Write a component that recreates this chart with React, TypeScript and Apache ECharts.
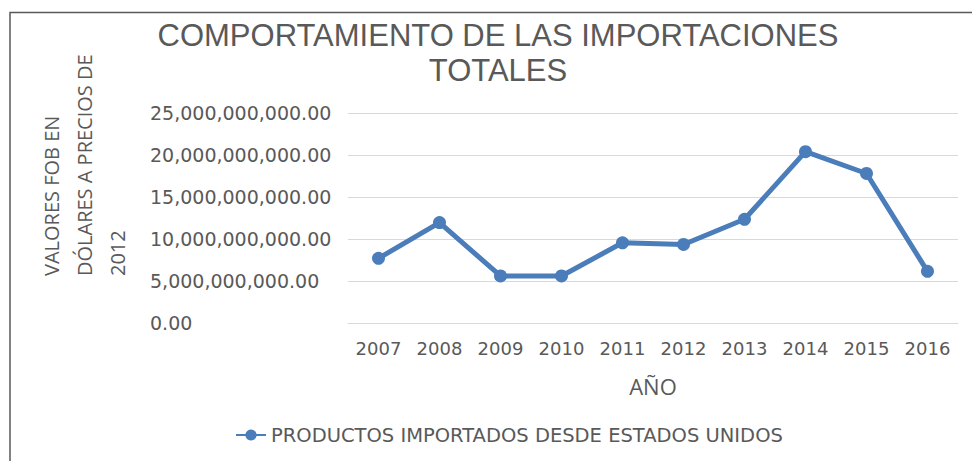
import React, { useEffect, useRef } from "react";
import * as echarts from "echarts";

const years = ["2007", "2008", "2009", "2010", "2011", "2012", "2013", "2014", "2015", "2016"];
const importValues = [
  7700000000, 11950000000, 5600000000, 5600000000, 9550000000,
  9350000000, 12350000000, 20400000000, 17800000000, 6150000000,
];
const seriesName = "PRODUCTOS IMPORTADOS DESDE ESTADOS UNIDOS";
const titleLines = ["COMPORTAMIENTO DE LAS IMPORTACIONES", "TOTALES"];
const yAxisTitle = "VALORES FOB EN\nDÓLARES A PRECIOS DE\n2012";
const xAxisTitle = "AÑO";

const TEXT = "#595959";
const BLUE = "#4a7dba";
const FONT = "'Open Sans', 'Liberation Sans', sans-serif";
const TITLE_FONT = "'Liberation Sans', Arial, sans-serif";
const WIDE = "'DejaVu Sans', 'Open Sans', sans-serif";

export default function App() {
  const ref = useRef<HTMLDivElement>(null);
  useEffect(() => {
    if (!ref.current) return;
    const chart = echarts.init(ref.current, null, { renderer: "svg" });
    chart.setOption({
      animation: false,
      backgroundColor: "#ffffff",
      title: titleLines.map((t, i) => ({
        text: t,
        left: 498,
        textAlign: "center",
        top: 18 + i * 35,
        padding: 0,
        textStyle: {
          color: TEXT,
          fontFamily: TITLE_FONT,
          fontSize: 31,
          fontWeight: "normal",
          lineHeight: 34,
        },
      })),
      graphic: [
        {
          type: "polyline",
          shape: { points: [[10, 461], [10, 12.5], [972, 12.5]] },
          style: { stroke: "#595959", lineWidth: 1.5, fill: "none" },
          silent: true,
        },
        {
          type: "text",
          x: 35,
          y: 276,
          rotation: Math.PI / 2,
          style: {
            text: yAxisTitle,
            fill: TEXT,
            font: "20px 'Liberation Sans Narrow', 'Open Sans', sans-serif",
            lineHeight: 33,
            textAlign: "left",
            textVerticalAlign: "top",
          },
          silent: true,
        },
      ],
      legend: {
        left: 230,
        top: 420,
        itemWidth: 30,
        itemHeight: 14,
        itemGap: 5,
        textStyle: { color: TEXT, fontFamily: WIDE, fontSize: 19.5 },
        data: [seriesName],
      },
      grid: { left: 348, right: 14, top: 113, bottom: 138, containLabel: false },
      xAxis: {
        type: "category",
        data: years,
        boundaryGap: true,
        axisLine: { show: true, lineStyle: { color: "#d9d9d9", width: 1 } },
        axisTick: { show: false },
        axisLabel: { color: TEXT, fontFamily: WIDE, fontSize: 18, margin: 16, interval: 0 },
        name: xAxisTitle,
        nameLocation: "middle",
        nameGap: 52,
        nameTextStyle: { color: TEXT, fontFamily: FONT, fontSize: 22 },
      },
      yAxis: {
        type: "value",
        min: 0,
        max: 25000000000,
        interval: 5000000000,
        axisLine: { show: false },
        axisTick: { show: false },
        splitLine: { lineStyle: { color: "#d9d9d9", width: 1 } },
        axisLabel: {
          color: TEXT,
          fontFamily: WIDE,
          fontSize: 19,
          align: "left",
          margin: 198,
          formatter: (v: number) =>
            v.toLocaleString("en-US", { minimumFractionDigits: 2, maximumFractionDigits: 2 }),
        },
      },
      series: [
        {
          name: seriesName,
          type: "line",
          data: importValues,
          symbol: "circle",
          symbolSize: 13,
          lineStyle: { color: BLUE, width: 5 },
          itemStyle: { color: BLUE },
        },
      ],
    });
    return () => chart.dispose();
  }, []);
  return (
    <div
      ref={ref}
      style={{ position: "fixed", left: 0, top: 0, width: 972, height: 461 }}
    />
  );
}
